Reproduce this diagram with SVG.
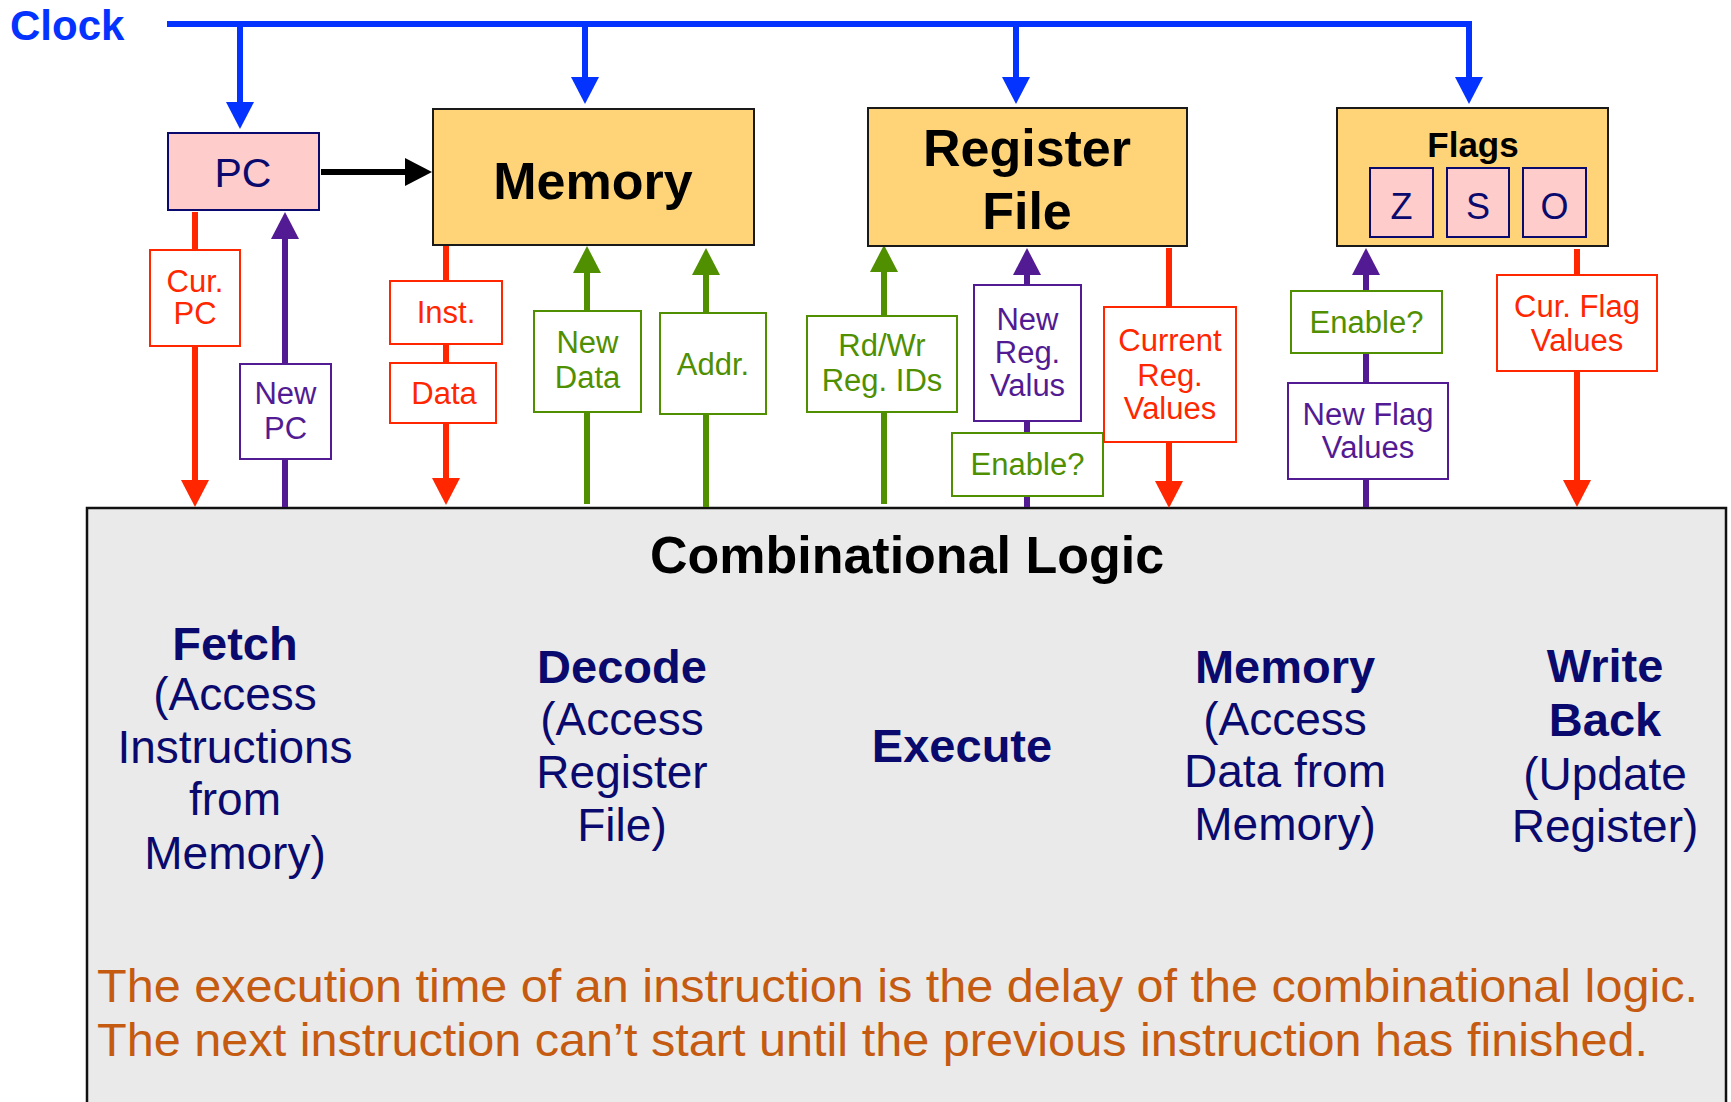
<svg xmlns="http://www.w3.org/2000/svg" width="1731" height="1102" viewBox="0 0 1731 1102">
<style>
text{font-family:"Liberation Sans",Arial,Helvetica,sans-serif;text-anchor:middle}
.bold{font-weight:bold}
.yel{fill:#FFD479;stroke:#1a1a1a;stroke-width:2}
.pink{fill:#FFCCCC;stroke:#0A0A6E;stroke-width:2}
.navy{fill:#0A0A6E}
.lbl{fill:#fff;stroke-width:2}
.lt{font-size:31px}
.phase{font-size:46px;fill:#0A0A6E}
.pb{font-size:47px;font-weight:bold;fill:#0A0A6E}
.clk{stroke:#0433FF;stroke-width:6;fill:none}
.red{stroke:#FF2600;stroke-width:6;fill:none}
.pur{stroke:#531B93;stroke-width:6;fill:none}
.grn{stroke:#4F8F00;stroke-width:6;fill:none}
.blk{stroke:#000;stroke-width:6;fill:none}
</style>
<defs>
<marker id="aBlue" markerUnits="userSpaceOnUse" markerWidth="27" markerHeight="28" refX="2" refY="14" orient="auto"><path d="M0,0 L27,14 L0,28 z" fill="#0433FF"/></marker>
<marker id="aRed" markerUnits="userSpaceOnUse" markerWidth="27" markerHeight="28" refX="2" refY="14" orient="auto"><path d="M0,0 L27,14 L0,28 z" fill="#FF2600"/></marker>
<marker id="aPur" markerUnits="userSpaceOnUse" markerWidth="27" markerHeight="28" refX="2" refY="14" orient="auto"><path d="M0,0 L27,14 L0,28 z" fill="#531B93"/></marker>
<marker id="aGrn" markerUnits="userSpaceOnUse" markerWidth="27" markerHeight="28" refX="2" refY="14" orient="auto"><path d="M0,0 L27,14 L0,28 z" fill="#4F8F00"/></marker>
<marker id="aBlk" markerUnits="userSpaceOnUse" markerWidth="27" markerHeight="28" refX="2" refY="14" orient="auto"><path d="M0,0 L27,14 L0,28 z" fill="#000"/></marker>
</defs>
<rect width="1731" height="1102" fill="#fff"/>

<g id="combinational-logic">
<rect x="87" y="508" width="1639" height="620" fill="#EAEAEA" stroke="#111" stroke-width="2.5"/>
<text x="907" y="573" class="bold" font-size="52">Combinational Logic</text>
<g id="fetch">
<text x="235" y="660" class="pb">Fetch</text>
<text x="235" y="710" class="phase">(Access</text>
<text x="235" y="763" class="phase">Instructions</text>
<text x="235" y="815" class="phase">from</text>
<text x="235" y="869" class="phase">Memory)</text>
</g>
<g id="decode">
<text x="622" y="683" class="pb">Decode</text>
<text x="622" y="735" class="phase">(Access</text>
<text x="622" y="788" class="phase">Register</text>
<text x="622" y="841" class="phase">File)</text>
</g>
<g id="execute">
<text x="962" y="762" class="pb">Execute</text>
</g>
<g id="memory-phase">
<text x="1285" y="683" class="pb">Memory</text>
<text x="1285" y="735" class="phase">(Access</text>
<text x="1285" y="787" class="phase">Data from</text>
<text x="1285" y="840" class="phase">Memory)</text>
</g>
<g id="writeback">
<text x="1605" y="682" class="pb">Write</text>
<text x="1605" y="736" class="pb">Back</text>
<text x="1605" y="790" class="phase">(Update</text>
<text x="1605" y="842" class="phase">Register)</text>
</g>
<g id="note" style="text-anchor:start" fill="#C55A11" font-size="47">
<text x="97" y="1002" style="text-anchor:start" textLength="1601" lengthAdjust="spacingAndGlyphs">The execution time of an instruction is the delay of the combinational logic.</text>
<text x="97" y="1056" style="text-anchor:start" textLength="1551" lengthAdjust="spacingAndGlyphs">The next instruction can’t start until the previous instruction has finished.</text>
</g>
</g>

<g id="connectors">
<path class="clk" d="M167,24 H1469 V79" marker-end="url(#aBlue)"/>
<path class="clk" d="M240,24 V104" marker-end="url(#aBlue)"/>
<path class="clk" d="M585,24 V79" marker-end="url(#aBlue)"/>
<path class="clk" d="M1016,24 V79" marker-end="url(#aBlue)"/>
<path class="blk" d="M321,172 H407" marker-end="url(#aBlk)"/>
<path class="red" d="M195,212 V482" marker-end="url(#aRed)"/>
<path class="pur" d="M285,507 V237" marker-end="url(#aPur)"/>
<path class="red" d="M446,246 V480" marker-end="url(#aRed)"/>
<path class="grn" d="M587,504 V271" marker-end="url(#aGrn)"/>
<path class="grn" d="M706,507 V273" marker-end="url(#aGrn)"/>
<path class="grn" d="M884,504 V270" marker-end="url(#aGrn)"/>
<path class="pur" d="M1027,507 V273" marker-end="url(#aPur)"/>
<path class="red" d="M1169,248 V483" marker-end="url(#aRed)"/>
<path class="pur" d="M1366,507 V273" marker-end="url(#aPur)"/>
<path class="red" d="M1577,249 V482" marker-end="url(#aRed)"/>
</g>

<g id="labels">
<g id="lbl-curpc"><rect class="lbl" x="150" y="250" width="90" height="96" stroke="#FF2600"/><text class="lt" fill="#FF2600" x="195" y="292">Cur.</text><text class="lt" fill="#FF2600" x="195" y="324">PC</text></g>
<g id="lbl-newpc"><rect class="lbl" x="240" y="364" width="91" height="95" stroke="#531B93"/><text class="lt" fill="#531B93" x="285.5" y="404">New</text><text class="lt" fill="#531B93" x="285.5" y="439">PC</text></g>
<g id="lbl-inst"><rect class="lbl" x="390" y="281" width="112" height="63" stroke="#FF2600"/><text class="lt" fill="#FF2600" x="446" y="323">Inst.</text></g>
<g id="lbl-data"><rect class="lbl" x="390" y="363" width="106" height="60" stroke="#FF2600"/><text class="lt" fill="#FF2600" x="444" y="404">Data</text></g>
<g id="lbl-newdata"><rect class="lbl" x="534" y="311" width="107" height="101" stroke="#4F8F00"/><text class="lt" fill="#4F8F00" x="587.5" y="353">New</text><text class="lt" fill="#4F8F00" x="587.5" y="388">Data</text></g>
<g id="lbl-addr"><rect class="lbl" x="660" y="313" width="106" height="101" stroke="#4F8F00"/><text class="lt" fill="#4F8F00" x="713" y="375">Addr.</text></g>
<g id="lbl-rdwr"><rect class="lbl" x="807" y="316" width="150" height="96" stroke="#4F8F00"/><text class="lt" fill="#4F8F00" x="882" y="356">Rd/Wr</text><text class="lt" fill="#4F8F00" x="882" y="391">Reg. IDs</text></g>
<g id="lbl-newreg"><rect class="lbl" x="974" y="285" width="107" height="136" stroke="#531B93"/><text class="lt" fill="#531B93" x="1027.5" y="330">New</text><text class="lt" fill="#531B93" x="1027.5" y="363">Reg.</text><text class="lt" fill="#531B93" x="1027.5" y="396">Valus</text></g>
<g id="lbl-enable-reg"><rect class="lbl" x="952" y="433" width="151" height="63" stroke="#4F8F00"/><text class="lt" fill="#4F8F00" x="1027.5" y="475">Enable?</text></g>
<g id="lbl-curreg"><rect class="lbl" x="1104" y="307" width="132" height="135" stroke="#FF2600"/><text class="lt" fill="#FF2600" x="1170" y="351">Current</text><text class="lt" fill="#FF2600" x="1170" y="386">Reg.</text><text class="lt" fill="#FF2600" x="1170" y="419">Values</text></g>
<g id="lbl-enable-flag"><rect class="lbl" x="1291" y="291" width="151" height="62" stroke="#4F8F00"/><text class="lt" fill="#4F8F00" x="1366.5" y="333">Enable?</text></g>
<g id="lbl-newflag"><rect class="lbl" x="1288" y="383" width="160" height="96" stroke="#531B93"/><text class="lt" fill="#531B93" x="1368" y="425">New Flag</text><text class="lt" fill="#531B93" x="1368" y="458">Values</text></g>
<g id="lbl-curflag"><rect class="lbl" x="1497" y="275" width="160" height="96" stroke="#FF2600"/><text class="lt" fill="#FF2600" x="1577" y="317">Cur. Flag</text><text class="lt" fill="#FF2600" x="1577" y="351">Values</text></g>
</g>

<g id="clock"><text x="10" y="40" class="bold" font-size="42" fill="#0433FF" style="text-anchor:start">Clock</text></g>
<g id="pc"><rect class="pink" x="168" y="133" width="151" height="77"/><text class="navy" x="243" y="187" font-size="41">PC</text></g>
<g id="memory"><rect class="yel" x="433" y="109" width="321" height="136"/><text x="593" y="199" class="bold" font-size="52">Memory</text></g>
<g id="register-file"><rect class="yel" x="868" y="108" width="319" height="138"/><text x="1027" y="166" class="bold" font-size="52">Register</text><text x="1027" y="229" class="bold" font-size="52">File</text></g>
<g id="flags"><rect class="yel" x="1337" y="108" width="271" height="138"/><text x="1473" y="157" class="bold" font-size="35">Flags</text>
<rect class="pink" x="1370" y="168" width="63" height="69"/><text class="navy" x="1401.5" y="219" font-size="36">Z</text>
<rect class="pink" x="1447" y="168" width="62" height="69"/><text class="navy" x="1478" y="219" font-size="36">S</text>
<rect class="pink" x="1523" y="168" width="63" height="69"/><text class="navy" x="1554.5" y="219" font-size="36">O</text>
</g>
</svg>
